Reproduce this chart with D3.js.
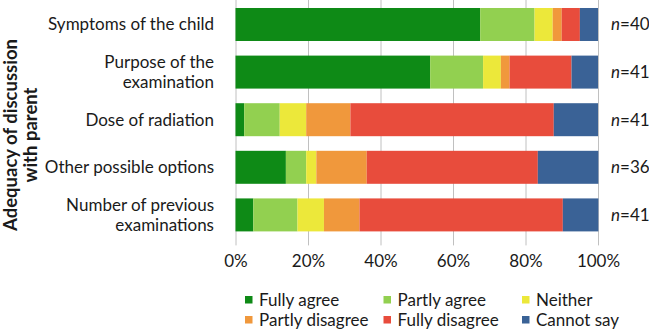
<!DOCTYPE html>
<html>
<head>
<meta charset="utf-8">
<script src="https://cdn.jsdelivr.net/npm/d3@7"></script>
<style>
  body { margin: 0; background: #fff; }
  svg text { font-family: Lato, "Open Sans", sans-serif; fill: #1a1a1a; }
</style>
</head>
<body>
<div class="chart"></div>
<script>
// Data (percent of answers per topic)
const topics = [
  ['Symptoms of the child'],
  ['Purpose of the', 'examination'],
  ['Dose of radiation'],
  ['Other possible options'],
  ['Number of previous', 'examinations']
];
const answers = ['Fully agree', 'Partly agree', 'Neither', 'Partly disagree', 'Fully disagree', 'Cannot say'];
const fullyAgree    = [67.5, 53.7,  2.4, 13.9,  4.9];
const partlyAgree   = [15.0, 14.6,  9.8,  5.6, 12.2];
const neither       = [ 5.0,  4.9,  7.3,  2.8,  7.3];
const partlyDisagree= [ 2.5,  2.4, 12.2, 13.9,  9.8];
const fullyDisagree = [ 5.0, 17.1, 56.1, 47.2, 56.1];
const cannotSay     = [ 5.0,  7.3, 12.2, 16.7,  9.8];
const nCounts = [40, 41, 41, 36, 41];
const xTicks = [0, 20, 40, 60, 80, 100];

const colors = ['#0e8a16', '#92d050', '#ece83a', '#f0983c', '#e84c3c', '#3a6296'];

const width = 649, height = 330;
const fs = 17;
const svg = d3.select('.chart').append('svg').attr('width', width).attr('height', height);

const keys = topics.map(t => t.join(' '));
const rows = keys.map((k, i) => ({
  topic: k,
  'Fully agree': fullyAgree[i], 'Partly agree': partlyAgree[i], 'Neither': neither[i],
  'Partly disagree': partlyDisagree[i], 'Fully disagree': fullyDisagree[i], 'Cannot say': cannotSay[i]
}));
const stacked = d3.stack().keys(answers)(rows);

const x = d3.scaleLinear([0, 100], [235.5, 598]);
const y = d3.scaleBand().domain(keys).range([0, 239.4]).paddingInner(0.307).paddingOuter(0.168);
const color = d3.scaleOrdinal(answers, colors);

// gridlines + x axis
const xAxis = d3.axisBottom(x).tickValues(xTicks).tickFormat(d => d + '%')
  .tickSize(-239.4).tickPadding(16);
const xg = svg.append('g').attr('transform', 'translate(0,239.4)').call(xAxis);
xg.select('.domain').remove();
xg.selectAll('line').attr('stroke', '#c0c0c0').attr('y2', -245.4).attr('transform', 'translate(0,6)');
xg.selectAll('text').attr('font-size', fs).attr('fill', '#1a1a1a')
  .style('font-family', 'Lato, "Open Sans", sans-serif');

// bars
svg.append('g').selectAll('g').data(stacked).join('g')
  .attr('fill', d => color(d.key))
  .selectAll('rect').data(d => d).join('rect')
  .attr('x', d => x(d[0]))
  .attr('y', d => y(d.data.topic))
  .attr('width', d => x(d[1]) - x(d[0]))
  .attr('height', y.bandwidth());

// category labels
const cat = svg.append('g').selectAll('text').data(topics).join('text')
  .attr('text-anchor', 'end').attr('font-size', fs)
  .attr('transform', (d, i) => `translate(214,${y(keys[i]) + y.bandwidth() / 2})`);
cat.selectAll('tspan').data(d => d.map((s, j) => ({s, j, n: d.length}))).join('tspan')
  .attr('x', 0)
  .attr('y', d => (d.j - (d.n - 1) / 2) * 20)
  .attr('dy', '0.35em')
  .text(d => d.s);

// n labels
const nl = svg.append('g').selectAll('text').data(nCounts).join('text')
  .attr('x', 611).attr('y', (d, i) => y(keys[i]) + y.bandwidth() / 2)
  .attr('dy', '0.35em').attr('font-size', fs);
nl.append('tspan').style('font-style', 'italic').text('n');
nl.append('tspan').text(d => '=' + d);

// y axis title
const yt = svg.append('text').attr('transform', 'translate(20.5,135) rotate(-90)')
  .attr('text-anchor', 'middle').attr('font-size', 18.5).attr('font-weight', 'bold');
yt.append('tspan').attr('x', 0).attr('y', -10).attr('dy', '0.35em').text('Adequacy of discussion');
yt.append('tspan').attr('x', 0).attr('y', 10).attr('dy', '0.35em').text('with parent');

// legend
const legX = [245, 383.5, 522];
const legY = [300, 320];
const leg = svg.append('g').selectAll('g').data(answers).join('g')
  .attr('transform', (d, i) => `translate(${legX[i % 3]},${legY[Math.floor(i / 3)]})`);
leg.append('rect').attr('x', 0).attr('y', -4).attr('width', 7.5).attr('height', 7.5).attr('fill', d => color(d));
leg.append('text').attr('x', 14).attr('dy', '0.35em').attr('font-size', fs).text(d => d);
</script>
</body>
</html>
